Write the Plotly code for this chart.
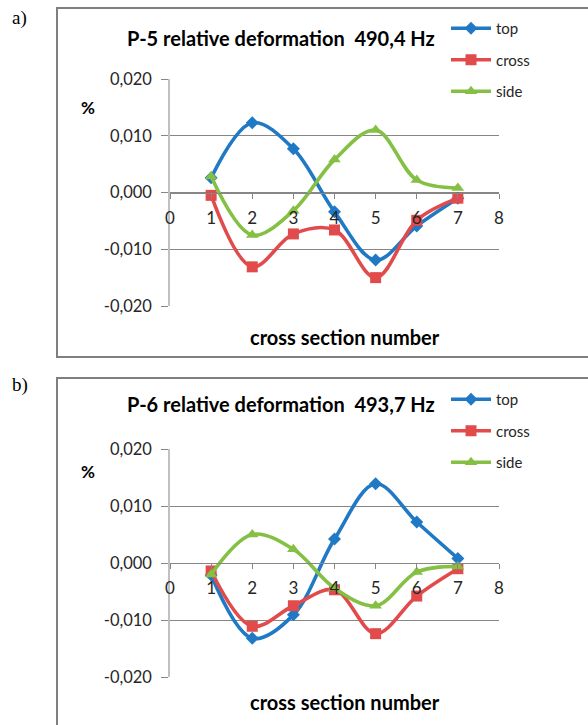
import plotly.graph_objects as go

W, H = 588, 725

sections = [1, 2, 3, 4, 5, 6, 7]
series_names = ["top", "cross", "side"]

# Panel a) P-5, 490,4 Hz
a_top = [0.0026, 0.0123, 0.0077, -0.0034, -0.0119, -0.0059, -0.0010]
a_cross = [-0.0005, -0.0131, -0.0073, -0.0066, -0.0150, -0.0049, -0.0010]
a_side = [0.0028, -0.0075, -0.0032, 0.0058, 0.0110, 0.0022, 0.0008]

# Panel b) P-6, 493,7 Hz
b_top = [-0.0021, -0.0132, -0.0091, 0.0042, 0.0139, 0.0072, 0.0008]
b_cross = [-0.0014, -0.0111, -0.0075, -0.0047, -0.0124, -0.0058, -0.0010]
b_side = [-0.0020, 0.0050, 0.0024, -0.0044, -0.0075, -0.0016, -0.0006]

titles = ["P-5 relative deformation  490,4 Hz", "P-6 relative deformation  493,7 Hz"]
panel_labels = ["a)", "b)"]
x_ticks = [0, 1, 2, 3, 4, 5, 6, 7, 8]
y_ticks = [-0.02, -0.01, 0.0, 0.01, 0.02]
y_ticktext = ["-0,020", "-0,010", "0,000", "0,010", "0,020"]
x_title = "cross section number"
y_title = "%"

colors = ["#2079C4", "#E14B4B", "#84C043"]
symbols = ["diamond", "square", "triangle-up"]
msizes = [10, 11, 11]

FONT = "Lato, Carlito, Calibri, sans-serif"


def px(x):
    return x / W


def py(y):
    return 1 - y / H


fig = go.Figure()

panels = [
    dict(data=[a_top, a_cross, a_side], top=79, bot=306, zero=193, box=(57, 8, 620, 357),
         title_y=38, label_y=18, pct_y=108, xt_y=337, leg_y=12),
    dict(data=[b_top, b_cross, b_side], top=449, bot=677, zero=563, box=(57, 378, 620, 760),
         title_y=404, label_y=385, pct_y=471, xt_y=702, leg_y=383),
]

X0, X1 = 170, 499
shapes = []
annotations = []
for i, p in enumerate(panels):
    n = "" if i == 0 else str(i + 1)
    leg = "legend" if i == 0 else "legend2"
    for k, name in enumerate(series_names):
        fig.add_trace(go.Scatter(
            x=sections, y=p["data"][k], name=name, mode="lines+markers",
            line=dict(color=colors[k], width=3.6, shape="spline", smoothing=1.0),
            marker=dict(symbol=symbols[k], size=msizes[k], color=colors[k]),
            xaxis="x" + n, yaxis="y" + n, legend=leg, legendgroup=f"{i}{k}",
        ))
    fig.update_layout(**{
        "xaxis" + n: dict(
            domain=[px(X0), px(X1)], range=[0, 8], tickvals=x_ticks,
            anchor="free", position=py(p["zero"]), showline=True, linecolor="#868686",
            linewidth=1, ticks="outside", ticklen=5, tickcolor="#868686",
            showgrid=False, zeroline=False, ticklabelstandoff=5, automargin=False,
            tickfont=dict(family=FONT, size=17, color="#262626"),
        ),
        "yaxis" + n: dict(
            domain=[py(p["bot"]), py(p["top"])], range=[-0.02, 0.02],
            tickvals=y_ticks, ticktext=y_ticktext, anchor="x" + n,
            showgrid=True, gridcolor="#868686", gridwidth=1,
            showline=True, linecolor="#C0C0C0", linewidth=1.5,
            ticks="outside", ticklen=7, tickcolor="#868686",
            zeroline=False, ticklabelstandoff=6, automargin=False,
            tickfont=dict(family=FONT, size=16.5, color="#262626"),
        ),
        leg: dict(
            x=px(446), y=py(p["leg_y"]), xanchor="left", yanchor="top",
            font=dict(family=FONT, size=15, color="#262626"), itemwidth=40,
            bgcolor="rgba(0,0,0,0)", tracegroupgap=9, traceorder="grouped",
        ),
    })
    bx0, by0, bx1, by1 = p["box"]
    shapes.append(dict(type="rect", xref="paper", yref="paper",
                       x0=px(bx0), x1=px(bx1), y0=py(by1), y1=py(by0),
                       line=dict(color="#7F7F7F", width=2), layer="below"))
    annotations += [
        dict(text=f"<b>{titles[i]}</b>", x=px(281), y=py(p["title_y"]), xref="paper", yref="paper",
             showarrow=False, xanchor="center", yanchor="middle",
             font=dict(family=FONT, size=20, color="#000000")),
        dict(text=panel_labels[i], x=px(10), y=py(p["label_y"]), xref="paper", yref="paper",
             showarrow=False, xanchor="left", yanchor="middle",
             font=dict(family="Liberation Serif, serif", size=19, color="#000000")),
        dict(text=f"<b>{y_title}</b>", x=px(88), y=py(p["pct_y"]), xref="paper", yref="paper",
             showarrow=False, xanchor="center", yanchor="middle",
             font=dict(family=FONT, size=17, color="#000000")),
        dict(text=f"<b>{x_title}</b>", x=px(345), y=py(p["xt_y"]), xref="paper", yref="paper",
             showarrow=False, xanchor="center", yanchor="middle",
             font=dict(family=FONT, size=20, color="#000000")),
    ]

fig.update_layout(
    width=W, height=H, margin=dict(l=0, r=0, t=0, b=0, autoexpand=False),
    paper_bgcolor="white", plot_bgcolor="white",
    showlegend=True, shapes=shapes, annotations=annotations,
    font=dict(family=FONT),
)

fig.write_html("out.html", config={"displayModeBar": False},
               post_script="document.body.style.margin='0';document.body.style.overflow='hidden';")
